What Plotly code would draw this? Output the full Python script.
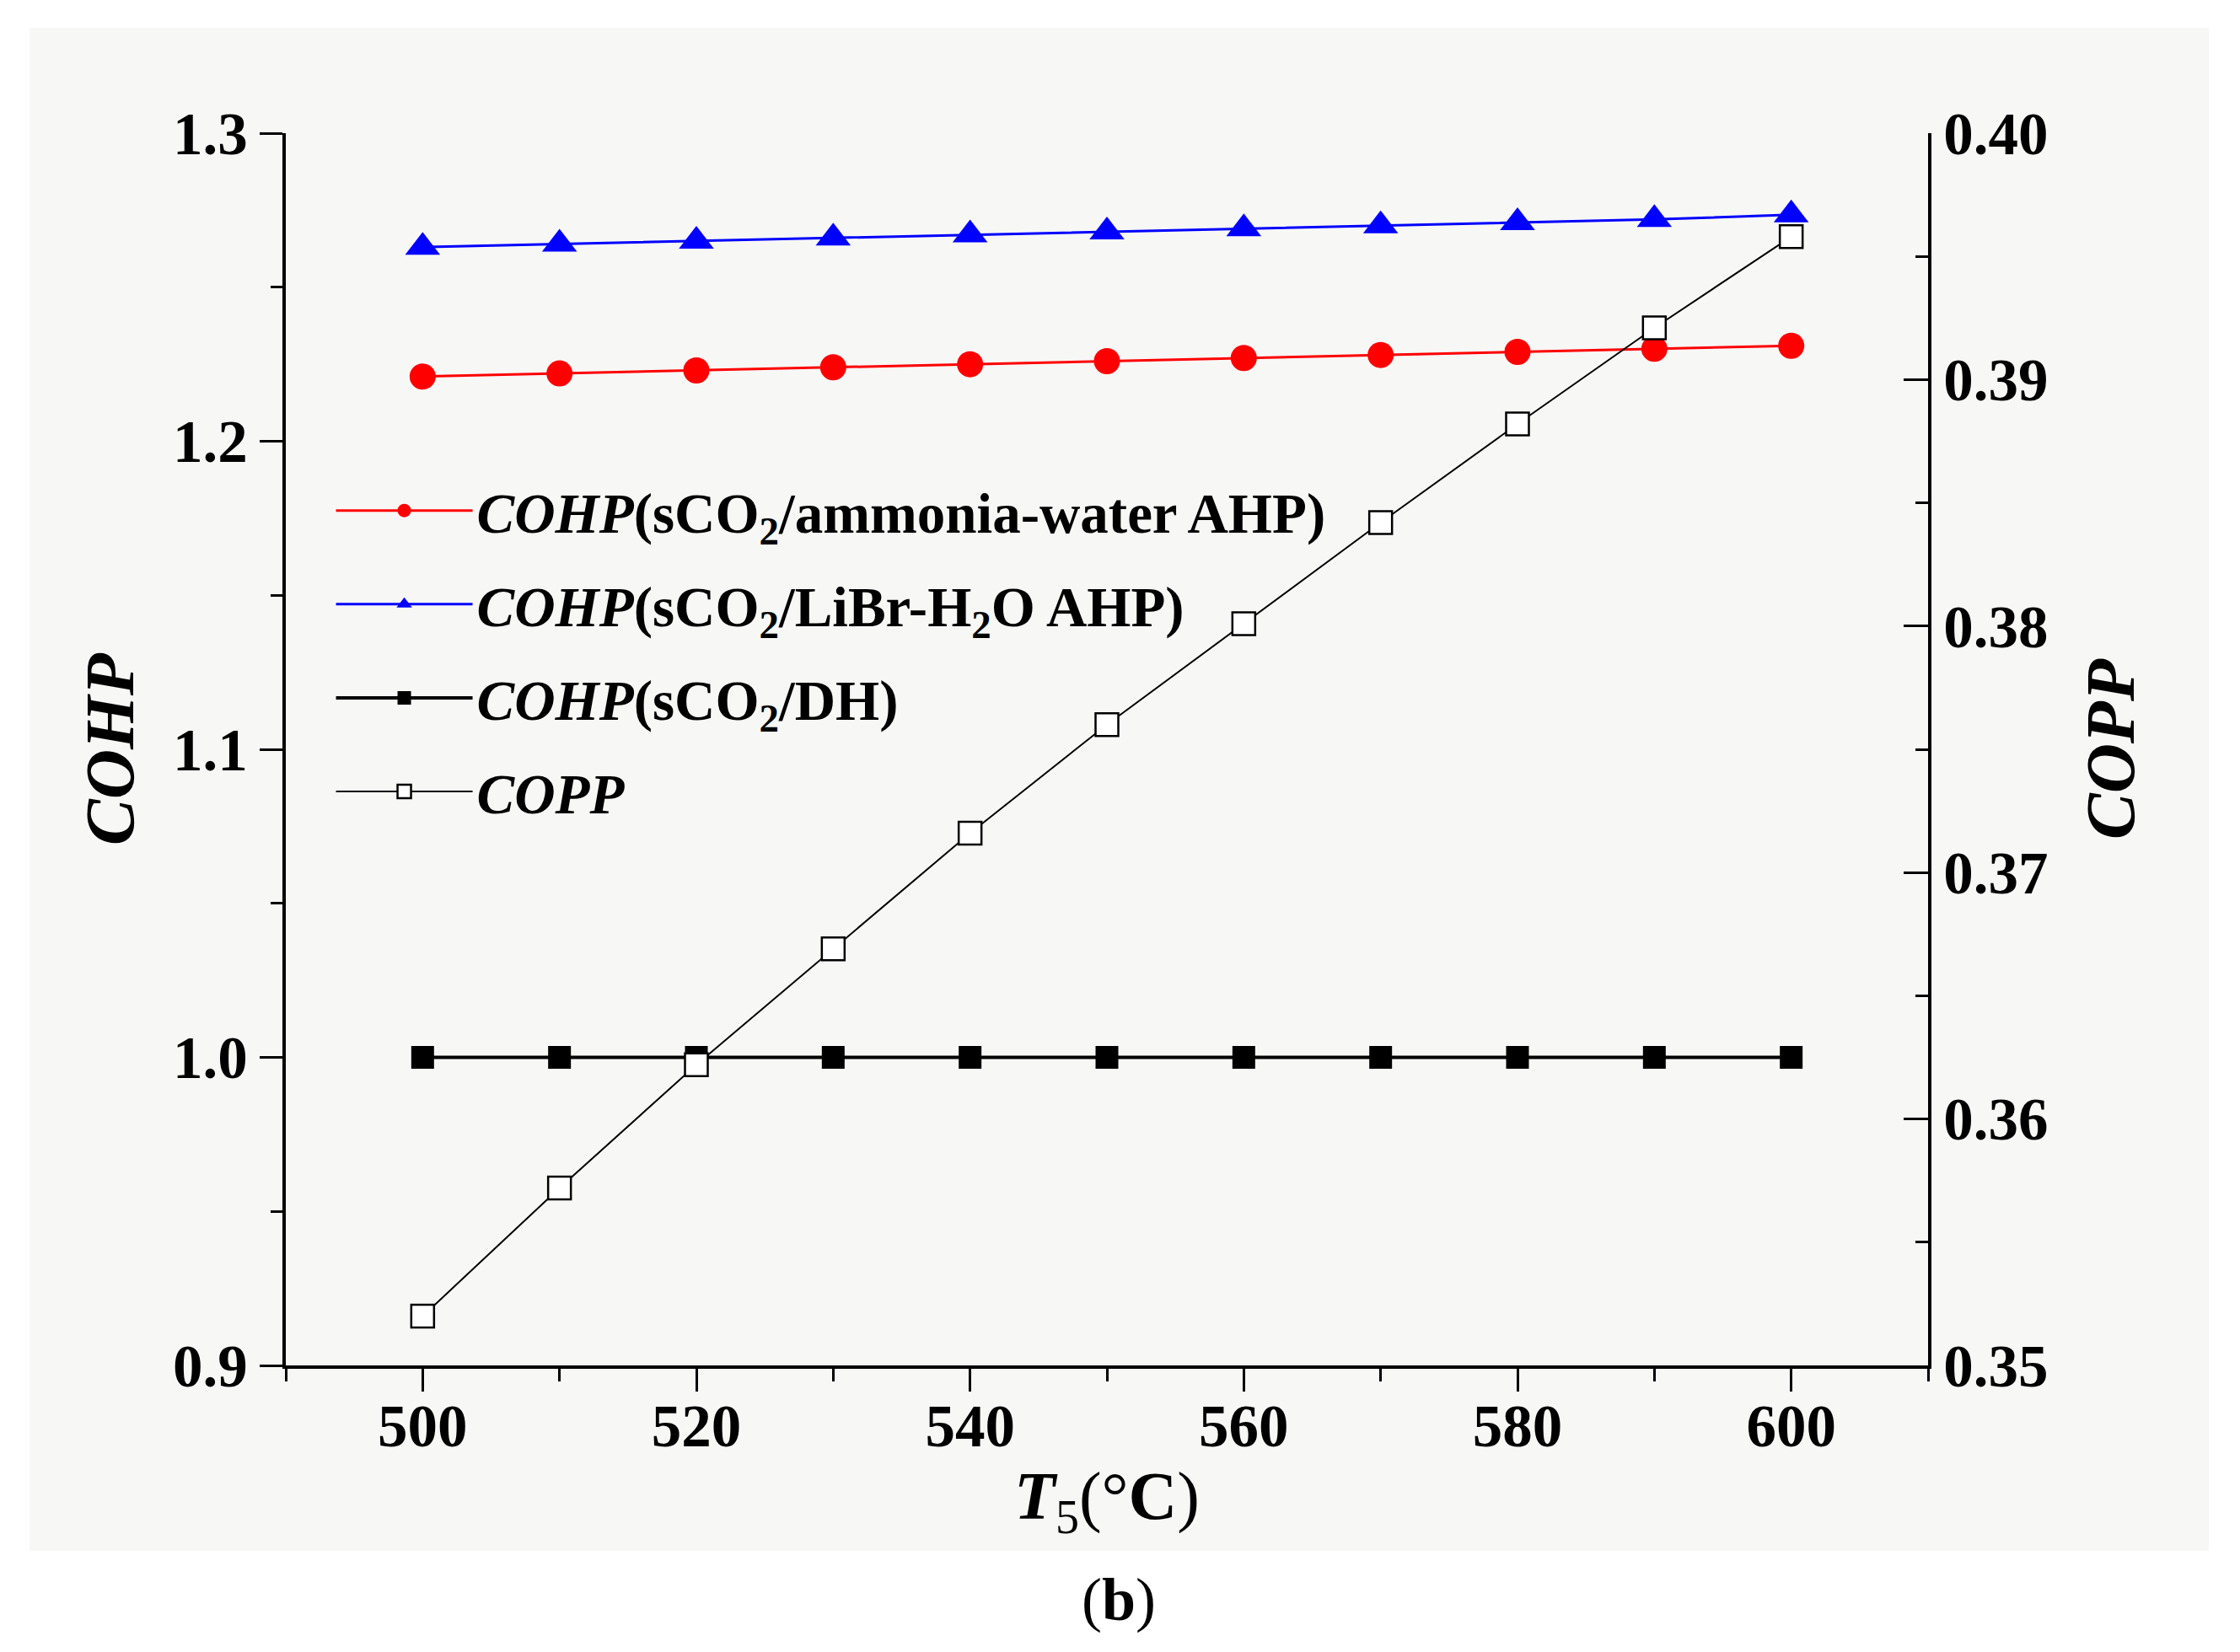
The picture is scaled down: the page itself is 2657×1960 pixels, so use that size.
import plotly.graph_objects as go

# ---- data ----
t5 = [500, 510, 520, 530, 540, 550, 560, 570, 580, 590, 600]
cohp_ammonia = [1.221, 1.222, 1.223, 1.224, 1.225, 1.226, 1.227, 1.228, 1.229, 1.230, 1.231]
cohp_libr = [1.263, 1.264, 1.265, 1.266, 1.267, 1.268, 1.269, 1.270, 1.271, 1.272, 1.2735]
cohp_dh = [1.0, 1.0, 1.0, 1.0, 1.0, 1.0, 1.0, 1.0, 1.0, 1.0, 1.0]
copp = [0.3520, 0.3572, 0.3622, 0.3669, 0.3716, 0.3760, 0.3801, 0.3842, 0.3882, 0.3921, 0.3958]

x_ticks = [500, 520, 540, 560, 580, 600]
yl_ticks = [0.9, 1.0, 1.1, 1.2, 1.3]
yr_ticks = [0.35, 0.36, 0.37, 0.38, 0.39, 0.40]

FONT = "Liberation Serif, Times New Roman, serif"

fig = go.Figure()
fig.add_trace(go.Scatter(
    x=t5, y=cohp_ammonia, mode="lines+markers", legendgroup="a",
    name="<b><i>COHP</i>(sCO<sub>2</sub>/ammonia-water AHP)</b>",
    line=dict(color="#ff0000", width=3),
    marker=dict(symbol="circle", size=31, color="#ff0000")))
fig.add_trace(go.Scatter(
    x=t5, y=cohp_libr, mode="lines+markers", legendgroup="b",
    name="<b><i>COHP</i>(sCO<sub>2</sub>/LiBr-H<sub>2</sub>O AHP)</b>",
    line=dict(color="#0000ff", width=3),
    marker=dict(symbol="triangle-up", size=36, color="#0000ff")))
fig.add_trace(go.Scatter(
    x=t5, y=cohp_dh, mode="lines+markers", legendgroup="c",
    name="<b><i>COHP</i>(sCO<sub>2</sub>/DH)</b>",
    line=dict(color="#000000", width=4),
    marker=dict(symbol="square", size=27, color="#000000")))
fig.add_trace(go.Scatter(
    x=t5, y=copp, mode="lines+markers", legendgroup="d", yaxis="y2",
    name="<b><i>COPP</i></b>",
    line=dict(color="#000000", width=2),
    marker=dict(symbol="square", size=27, color="#ffffff",
                line=dict(color="#000000", width=2.5))))

tickfont = dict(family=FONT, size=71, color="black", weight="bold")

fig.update_layout(
    width=2657, height=1960,
    margin=dict(l=331, r=378, t=150, b=348),
    paper_bgcolor="white", plot_bgcolor="rgba(0,0,0,0)",
    font=dict(family=FONT, color="black"),
    showlegend=True,
    legend=dict(x=0.028, y=0.728, xanchor="left", yanchor="top",
                bgcolor="rgba(0,0,0,0)", itemwidth=162, tracegroupgap=21,
                font=dict(family=FONT, size=67, color="black")),
    xaxis=dict(range=[490, 610], tickvals=x_ticks, ticks="outside", ticklen=27,
               tickwidth=3, tickcolor="black", showline=True, linewidth=4,
               linecolor="black", showgrid=False, zeroline=False,
               tickfont=tickfont, ticklabelstandoff=-20,
               minor=dict(dtick=10, tick0=490, ticks="outside", ticklen=15,
                          tickwidth=3, tickcolor="black", showgrid=False),
               title=dict(text="<b><i>T</i></b><sub>5</sub>(°<b>C</b>)",
                          font=dict(family=FONT, size=80, color="black"),
                          standoff=10)),
    yaxis=dict(range=[0.9, 1.3], tickvals=yl_ticks, tickformat=".1f",
               ticks="outside", ticklen=27, tickwidth=3, tickcolor="black",
               showline=True, linewidth=4, linecolor="black", showgrid=False,
               zeroline=False, tickfont=tickfont,
               minor=dict(dtick=0.05, tick0=0.9, ticks="outside", ticklen=14,
                          tickwidth=3, tickcolor="black", showgrid=False),
               title=dict(text="<b><i>COHP</i></b>",
                          font=dict(family=FONT, size=82, color="black"),
                          standoff=20)),
    yaxis2=dict(range=[0.35, 0.40], tickvals=yr_ticks, tickformat=".2f",
                overlaying="y", side="right", anchor="x",
                ticks="inside", ticklen=29, tickwidth=3, tickcolor="black",
                showline=True, linewidth=4, linecolor="black", showgrid=False,
                zeroline=False, tickfont=tickfont,
                minor=dict(dtick=0.005, tick0=0.35, ticks="inside", ticklen=15,
                           tickwidth=3, tickcolor="black", showgrid=False),
                title=dict(text="<b><i>COPP</i></b>",
                           font=dict(family=FONT, size=82, color="black"),
                           standoff=46)),
    shapes=[dict(type="rect", xref="paper", yref="paper", layer="below",
                 x0=-0.156, x1=1.171, y0=-0.1505, y1=1.0855,
                 fillcolor="#f7f7f6", line=dict(width=0))],
    annotations=[dict(text="(<b>b</b>)", xref="paper", yref="paper",
                      x=0.507, y=-0.19, yanchor="middle", showarrow=False,
                      font=dict(family=FONT, size=72, color="black"))],
)

fig.write_html("out.html")
